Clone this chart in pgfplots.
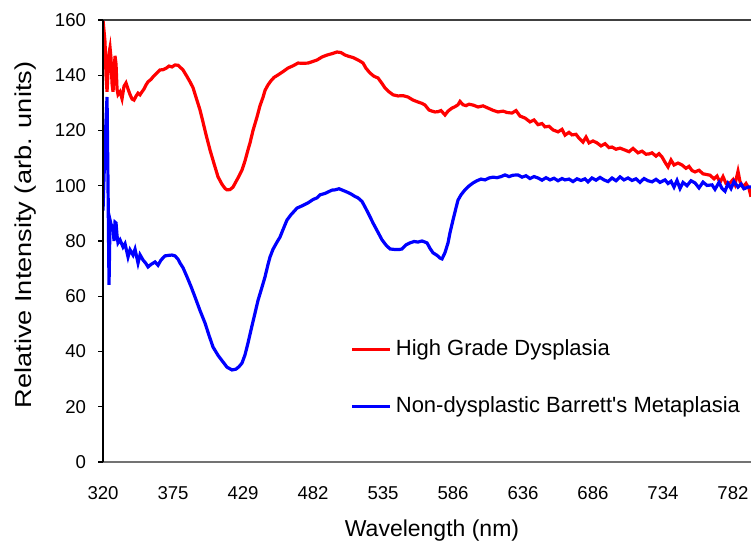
\documentclass[border=0pt]{standalone}
\usepackage{pgfplots}
\pgfplotsset{compat=1.18}
\usepackage{fontspec}
\setmainfont{Liberation Sans}[Ligatures=TeXOff]
\definecolor{hgd}{RGB}{255,0,0}
\definecolor{ndb}{RGB}{0,0,255}
\begin{document}
\begin{tikzpicture}
\begin{axis}[
  scale only axis,
  width=324pt, height=221pt,
  xmin=0, xmax=648, ymin=0, ymax=160,
  xtick={0,70,...,630},
  xticklabels={320,375,429,482,535,586,636,686,734,782},
  ytick={0,20,...,160},
  axis line style={draw=none},
  x tick style={draw=none},
  y tick style={black, line width=0.7pt},
  tick align=outside,
  major tick length=2.5pt,
  clip mode=individual,
  /pgf/number format/assume math mode=true,
  tick label style={font=\fontsize{9.3}{11}\selectfont},
  xticklabel style={yshift=-6pt},
  yticklabel style={xshift=-2.5pt},
  xlabel={Wavelength (nm)},
  xlabel style={at={(rel axis cs:0.5077,-0.1697)}, anchor=base, font=\fontsize{11.5}{14}\selectfont},
  ylabel={\scalebox{1.18}[1]{Relative Intensity (arb. units)}},
  ylabel style={at={(rel axis cs:-0.119,0.5136)}, anchor=center, font=\fontsize{11.5}{14}\selectfont},
  legend style={at={(rel axis cs:0.3723,0.2955)}, anchor=north west, draw=none, fill=none,
    font=\fontsize{11}{13.2}\selectfont, row sep=15pt},
  legend cell align=left,
  legend image code/.code={\draw[#1] (0pt,0pt) -- (19pt,0pt);},
]
\addplot[hgd, line width=1.6pt] coordinates {
(0,160) (2,152) (3,140) (4,134) (5,141) (6,148) (7,150) (8,146) (9,137) (10,134)
(11,140) (12,147) (13,144) (14,135) (15,133) (17,134) (19,131.5) (21,136) (23,137.2) (25,135)
(27,133) (29,131.4) (31,131) (33,132.4) (35,133.5) (37,132.9) (39,134) (41,135) (43,136.5) (45,137.6)
(48,138.5) (50,139.4) (53,140.5) (57,141.9) (60,142) (63,142.5) (66,143.3) (69,143.0) (72,143.7) (75,143.6)
(78,142.6) (80,141.9) (84,139.5) (87,137.6) (90,135.5) (93,132) (97,127.4) (100,123) (103,118.5) (107,112.9)
(111,108) (115,103.2) (119,100.5) (122,99) (124,98.5) (127,98.6) (130,99.5) (133,101.5) (136,103.5) (139,105.7)
(142,109) (145,113) (147,115.5) (150,120) (154,124.9) (157,129) (160,132) (162,134.5) (165,136.5) (168,138)
(171,139.2) (175,140.1) (180,141.3) (185,142.6) (190,143.4) (195,144.4) (200,144.3) (205,144.4) (210,145) (214,145.5)
(219,146.6) (224,147.3) (229,147.8) (234,148.4) (238,148.2) (242,147.3) (246,146.8) (250,146.4) (255,145.5) (258,144.9)
(260,144.4) (263,142.5) (267,140.8) (271,139.6) (275,139.0) (279,137) (282,135.4) (286,134) (290,132.9) (295,132.5)
(300,132.6) (305,132.1) (310,131) (315,130.3) (319,129.8) (322,129.2) (326,127.4) (329,127.0) (332,126.7) (335,126.8)
(338,127.2) (342,125.6) (345,127.0) (349,128.1) (352,128.6) (355,129.3) (357,130.5) (360,129.3) (363,129.0) (366,129.5)
(370,129.2) (375,128.5) (380,128.9) (385,128.1) (390,127.3) (395,126.7) (400,127.0) (404,126.5) (409,126.3) (413,127.2)
(417,125.2) (422,124.5) (427,123.1) (431,123.8) (435,122.1) (439,122.5) (442,121.3) (446,121.5) (450,120.2) (455,119.5)
(459,120.4) (462,118.3) (466,119.3) (469,118.4) (473,118.6) (476,117.2) (480,115.8) (483,117.6) (486,115.5) (490,116.2)
(494,115.5) (498,114.4) (502,115.2) (506,113.8) (509,114.0) (513,113.2) (517,113.6) (522,112.9) (526,112.3) (530,113.5)
(535,111.9) (539,112.5) (543,111.4) (546,111.5) (549,111.9) (553,110.7) (556,111.6) (559,110.4) (562,108.5) (565,106.8)
(568,109.3) (571,107.5) (575,108.2) (579,107.5) (583,106.3) (586,107.0) (589,105.5) (592,105.0) (596,105.6) (600,104.3)
(603,104.1) (607,103.8) (611,102.5) (614,103.5) (617,101.2) (620,103.3) (623,100.8) (627,101.0) (630,102.2) (632,100.5)
(635,105.2) (637,101.5) (640,99.5) (643,100.8) (646,99) (648,96)
};
\addlegendentry{High Grade Dysplasia}
\addplot[ndb, line width=1.6pt] coordinates {
(0,91) (2,115) (4,132.1) (5,100) (6,64.1) (7,87.6) (8,86) (10,85.1) (11,80) (12,86.8)
(13,86.5) (14,82) (15,79.3) (17,80.4) (20,77.8) (22,79) (25,74.2) (27,76.8) (30,74.9) (32,77)
(35,72.0) (37,75) (40,73.1) (43,71.8) (45,70.6) (48,71.5) (52,72.4) (55,71.2) (58,73.1) (62,74.6)
(66,74.8) (69,74.9) (72,74.6) (75,73.4) (77,72.0) (80,70.3) (84,67.0) (88,63.5) (92,59.7) (97,54.8)
(102,50.3) (106,45.8) (110,41.6) (115,38.6) (120,36.2) (124,34.3) (129,33.3) (133,33.6) (136,34.5) (139,35.8)
(142,38.8) (145,43.1) (148,47.8) (152,53.9) (155,58.5) (159,63.3) (162,67) (165,71.5) (167,74.2) (170,77)
(174,79.6) (177,81.4) (181,85) (184,87.6) (188,89.5) (194,91.9) (199,92.7) (205,93.8) (210,95) (214,95.6)
(217,96.7) (222,97.2) (226,97.9) (229,98.4) (232,98.5) (236,98.9) (240,98.3) (244,97.7) (248,97.0) (252,96.1)
(255,95.6) (259,94.3) (262,92.3) (266,89.5) (270,86.5) (274,83.8) (279,80.4) (283,78.5) (287,77.1) (292,76.9)
(296,76.9) (299,77.1) (303,78.6) (307,79.3) (311,79.8) (315,79.6) (319,80.0) (324,79.3) (327,77.3) (330,75.7)
(334,74.8) (337,73.8) (339,73.5) (342,75.8) (345,79.3) (347,83) (350,87.6) (353,92) (355,94.8) (358,96.7)
(362,98.5) (366,99.9) (370,101.0) (374,101.8) (378,102.4) (382,102.1) (386,102.8) (390,103.1) (394,102.9) (398,103.3)
(402,103.9) (406,103.3) (410,103.8) (415,103.9) (419,103.1) (423,103.6) (427,102.6) (431,103.3) (435,102.8) (439,102.0)
(443,102.9) (447,102.1) (451,102.7) (455,101.8) (459,102.6) (462,102.1) (466,102.4) (470,101.5) (474,102.5) (478,101.9)
(482,102.5) (485,101.4) (489,102.8) (493,102.0) (497,103.0) (501,102.1) (505,101.5) (509,102.8) (513,101.8) (517,103.2)
(521,102.1) (525,102.8) (529,101.9) (533,102.5) (537,101.2) (541,102.6) (545,101.8) (549,101.4) (553,102.3) (557,101.2)
(562,102.1) (565,100.8) (568,101.6) (571,99.5) (574,101.9) (577,99.0) (580,101.2) (584,100.0) (588,101.8) (592,101.0)
(596,99.2) (600,101.3) (604,100.1) (609,100.3) (612,98.7) (616,101.2) (619,99.0) (622,98.0) (625,100.8) (628,99.0)
(631,101.5) (635,99.5) (638,100.6) (641,98.9) (645,99.5) (648,99.5)
};
\addlegendentry{Non-dysplastic Barrett's Metaplasia}
\draw[black!75, line width=0.8pt] (rel axis cs:0,1) -- (rel axis cs:1,1);
\draw[black!55, line width=0.8pt] (rel axis cs:0,0) -- (rel axis cs:1,0);
\draw[black, line width=0.8pt] (rel axis cs:0,0) -- (rel axis cs:0,1);
\coordinate (bbA) at (rel axis cs:-0.159,-0.1878);
\coordinate (bbB) at (rel axis cs:1,1.0452);
\end{axis}
\pgfresetboundingbox
\useasboundingbox (bbA) rectangle (bbB);
\end{tikzpicture}
\end{document}
